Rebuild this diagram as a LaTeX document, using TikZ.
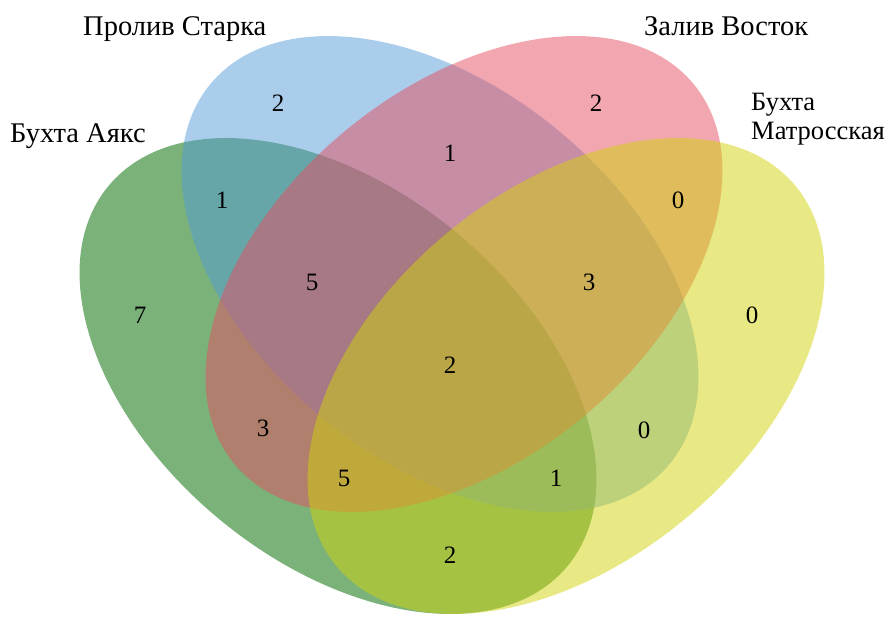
\documentclass[tikz,border=0pt]{standalone}
\usepackage{fontspec}
\setmainfont{Liberation Serif}
\definecolor{cgreen}{RGB}{123,178,122}
\definecolor{cblue}{RGB}{85,155,215}
\definecolor{cred}{RGB}{229,77,97}
\definecolor{cyellow}{RGB}{209,211,11}
\tikzset{
  setlabel/.style={anchor=base west,inner sep=0pt,font=\fontsize{28.5}{30}\selectfont},
  setlabelsm/.style={setlabel,font=\fontsize{26.5}{28}\selectfont},
  count/.style={inner sep=0pt,font=\fontsize{25}{27}\selectfont},
  venn/.style={fill opacity=0.5}
}
\begin{document}
\begin{tikzpicture}[x=1pt,y=-1pt]
\useasboundingbox (0,0) rectangle (896,616);
\clip (0,0) rectangle (896,616);
\fill[cgreen] (338,376) ellipse [x radius=298, y radius=186, rotate=-39.6];
\fill[cblue,venn] (440,274) ellipse [x radius=298, y radius=186, rotate=-39.6];
\fill[cred,venn] (464,274) ellipse [x radius=298, y radius=186, rotate=39.6];
\fill[cyellow,venn] (566,376) ellipse [x radius=298, y radius=186, rotate=39.6];
% set labels
\node[setlabel] (lblue) at (83,35) {Пролив Старка};
\node[setlabel] (lred) at (644,35) {Залив Восток};
\node[setlabel] (lgreen) at (10,142) {Бухта Аякс};
\node[setlabelsm] (lyel1) at (751,110) {Бухта};
\node[setlabelsm] (lyel2) at (751,139) {Матросская};
% counts
\node[count] (nB) at (278,103) {2};
\node[count] (nR) at (596,103) {2};
\node[count] (nGB) at (222,200) {1};
\node[count] (nBR) at (450,153) {1};
\node[count] (nRY) at (678,200) {0};
\node[count] (nG) at (140,315) {7};
\node[count] (nGBR) at (312,282) {5};
\node[count] (nBRY) at (589,282) {3};
\node[count] (nY) at (752,315) {0};
\node[count] (nAll) at (450,365) {2};
\node[count] (nGR) at (263,428) {3};
\node[count] (nBY) at (644,430) {0};
\node[count] (nGRY) at (344,478) {5};
\node[count] (nGBY) at (556,478) {1};
\node[count] (nGY) at (450,555) {2};
\end{tikzpicture}
\end{document}
